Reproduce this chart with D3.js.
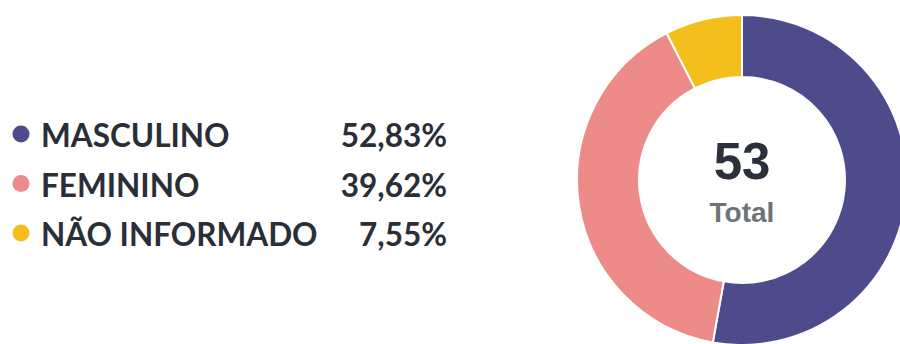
<!DOCTYPE html>
<html>
<head>
<meta charset="utf-8">
<script src="https://cdn.jsdelivr.net/npm/d3@7/dist/d3.min.js"></script>
<style>
  html, body { margin: 0; padding: 0; background: #ffffff; }
  svg { display: block; }
</style>
</head>
<body>
<svg id="chart" width="900" height="344"></svg>
<script>
// Gender breakdown of registered people
const categories = ["MASCULINO", "FEMININO", "NÃO INFORMADO"];
const counts = [28, 21, 4];
const percentLabels = ["52,83%", "39,62%", "7,55%"];
const colors = ["#4d4b8b", "#ec8b88", "#f4bf1c"];
const totalLabel = "Total";

const data = categories.map((c, i) => ({ name: c, value: counts[i], pct: percentLabels[i], color: colors[i] }));
const total = d3.sum(counts);

const svg = d3.select("#chart");

// Donut
const cx = 742, cy = 180, outerR = 165, innerR = 103;
const pie = d3.pie().value(d => d.value).sort(null);
const arc = d3.arc().innerRadius(innerR).outerRadius(outerR);

const g = svg.append("g").attr("transform", `translate(${cx},${cy})`);
g.selectAll("path")
  .data(pie(data))
  .join("path")
  .attr("d", arc)
  .attr("fill", d => d.data.color)
  .attr("stroke", "#ffffff")
  .attr("stroke-width", 2)
  .attr("stroke-linejoin", "round");

g.append("text")
  .attr("text-anchor", "middle")
  .attr("y", -1)
  .attr("font-family", "'Liberation Sans', Arial, sans-serif")
  .attr("font-weight", 700)
  .attr("font-size", 51)
  .attr("fill", "#2b313b")
  .text(total);

g.append("text")
  .attr("text-anchor", "middle")
  .attr("y", 42)
  .attr("font-family", "'Liberation Sans', Arial, sans-serif")
  .attr("font-weight", 700)
  .attr("font-size", 28)
  .attr("fill", "#6d7278")
  .text(totalLabel);

// Legend
const rowY = d3.scalePoint().domain(categories).range([147, 246]);
const legend = svg.append("g");
const rows = legend.selectAll("g.row")
  .data(data)
  .join("g")
  .attr("class", "row")
  .attr("transform", d => `translate(0,${rowY(d.name)})`);

rows.append("circle")
  .attr("cx", 21)
  .attr("cy", -13)
  .attr("r", 8.5)
  .attr("fill", d => d.color);

rows.append("text")
  .attr("x", 41)
  .attr("y", 0)
  .attr("font-family", "Lato, sans-serif")
  .attr("font-weight", 700)
  .attr("font-size", 31.5)
  .attr("fill", "#2a2e37")
  .text(d => d.name);

rows.append("text")
  .attr("x", 447)
  .attr("y", 0)
  .attr("text-anchor", "end")
  .attr("font-family", "Lato, sans-serif")
  .attr("font-weight", 700)
  .attr("font-size", 31.5)
  .attr("fill", "#2a2e37")
  .text(d => d.pct);
</script>
</body>
</html>
